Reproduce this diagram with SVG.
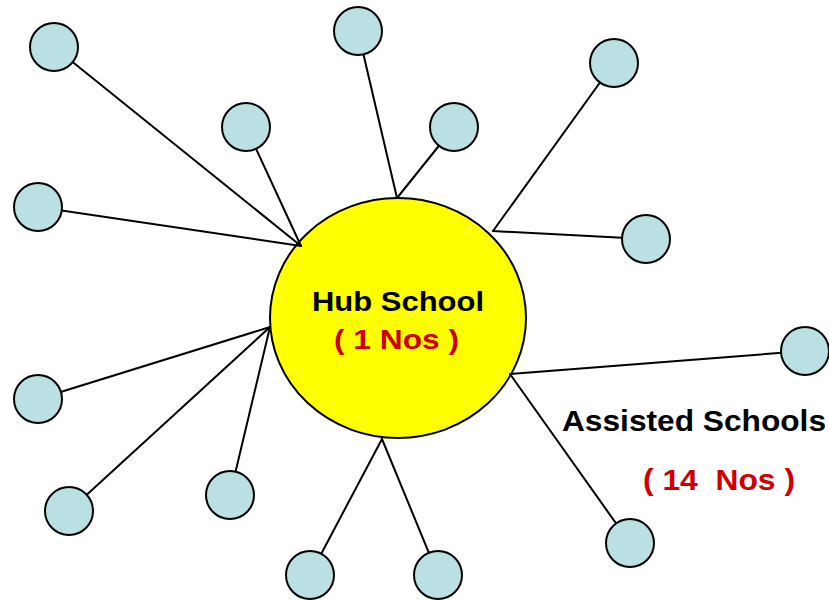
<svg xmlns="http://www.w3.org/2000/svg" width="829" height="601" viewBox="0 0 829 601">
<style>
.hub{fill:#FFFF00;stroke:#000;stroke-width:2}
.sat{fill:#BBE0E3;stroke:#000;stroke-width:2}
.con line{stroke:#000;stroke-width:2;stroke-linecap:round}
.t{font-family:"Liberation Sans",Arial,sans-serif;font-weight:bold}
.blk{fill:#000}
.red{fill:#CC0000}
</style>
<rect width="829" height="601" fill="#fff"/>
<g id="hub">
<ellipse class="hub" cx="398" cy="318" rx="128" ry="120"/>
</g>
<g id="connectors" class="con">
<line x1="54" y1="47" x2="301" y2="246"/>
<line x1="246" y1="127" x2="301" y2="246"/>
<line x1="38" y1="207" x2="301" y2="246"/>
<line x1="358" y1="31" x2="397" y2="198"/>
<line x1="454" y1="127" x2="397" y2="198"/>
<line x1="614" y1="63" x2="493" y2="231"/>
<line x1="646" y1="239" x2="493" y2="231"/>
<line x1="805" y1="351" x2="510" y2="374"/>
<line x1="630" y1="543" x2="510" y2="374"/>
<line x1="310" y1="575" x2="382" y2="439"/>
<line x1="438" y1="575" x2="382" y2="439"/>
<line x1="38" y1="399" x2="270" y2="327"/>
<line x1="69" y1="511" x2="270" y2="327"/>
<line x1="230" y1="495" x2="270" y2="327"/>
</g>
<g id="s1"><circle class="sat" cx="54" cy="47" r="24"/></g>
<g id="s2"><circle class="sat" cx="358" cy="31" r="24"/></g>
<g id="s3"><circle class="sat" cx="614" cy="63" r="24"/></g>
<g id="s4"><circle class="sat" cx="246" cy="127" r="24"/></g>
<g id="s5"><circle class="sat" cx="454" cy="127" r="24"/></g>
<g id="s6"><circle class="sat" cx="38" cy="207" r="24"/></g>
<g id="s7"><circle class="sat" cx="646" cy="239" r="24"/></g>
<g id="s8"><circle class="sat" cx="805" cy="351" r="24"/></g>
<g id="s9"><circle class="sat" cx="38" cy="399" r="24"/></g>
<g id="s10"><circle class="sat" cx="69" cy="511" r="24"/></g>
<g id="s11"><circle class="sat" cx="230" cy="495" r="24"/></g>
<g id="s12"><circle class="sat" cx="310" cy="575" r="24"/></g>
<g id="s13"><circle class="sat" cx="438" cy="575" r="24"/></g>
<g id="s14"><circle class="sat" cx="630" cy="543" r="24"/></g>
<g id="labels">
<text class="t blk" x="312" y="311" font-size="28" textLength="172" lengthAdjust="spacingAndGlyphs">Hub School</text>
<text class="t red" x="334" y="349" font-size="28" textLength="125" lengthAdjust="spacingAndGlyphs" xml:space="preserve">( 1 Nos )</text>
<text class="t blk" x="562" y="431" font-size="30" textLength="264" lengthAdjust="spacingAndGlyphs">Assisted Schools</text>
<text class="t red" x="643" y="490" font-size="30" textLength="152" lengthAdjust="spacingAndGlyphs" xml:space="preserve">( 14  Nos )</text>
</g>
</svg>
